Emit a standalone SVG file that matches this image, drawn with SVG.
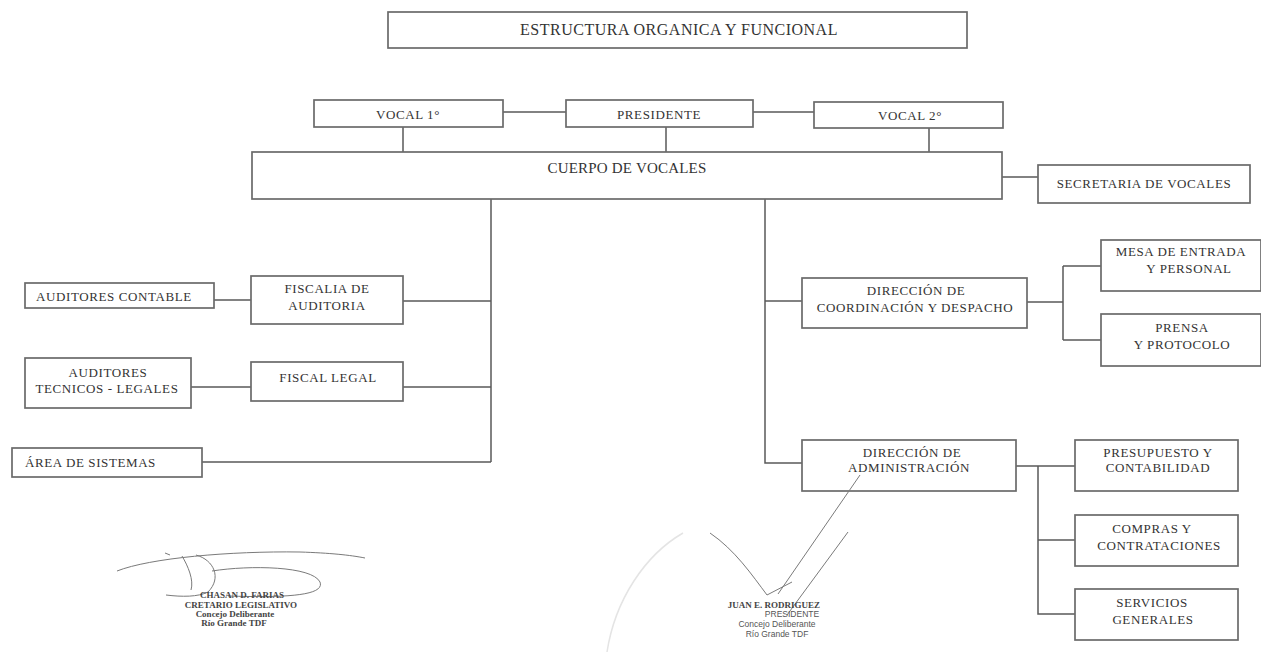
<svg xmlns="http://www.w3.org/2000/svg" width="1261" height="652" viewBox="0 0 1261 652">
<style>
.b{fill:#fff;stroke:#6a6a6a;stroke-width:1.7}
.t{font-family:"Liberation Serif",serif;font-size:13px;letter-spacing:0.6px;fill:#333;text-anchor:middle}
.l{text-anchor:start}
.c{fill:none;stroke:#5a5a5a;stroke-width:1.5}
.s{fill:none;stroke:#7a7a7a;stroke-width:1}
.st{font-family:"Liberation Serif",serif;font-size:9px;fill:#444;text-anchor:middle;font-weight:bold}
.st2{font-family:"Liberation Sans",sans-serif;font-size:8.5px;fill:#555;text-anchor:middle}
</style>
<rect width="1261" height="652" fill="#fff"/>
<g id="connectors">
<path class="c" d="M503 112H566M753 112H814M403 127V152M666 127V152M929 128V152M1002 177H1038"/>
<path class="c" d="M491 199V462M403 301H491M403 387H491M202 462H491M214 300H251M191 387H251"/>
<path class="c" d="M765 199V463H802M765 301H802M1027 302H1063M1063 266V340M1063 266H1101M1063 340H1101"/>
<path class="c" d="M1016 466H1075M1038 466V614H1075M1038 540H1075"/>
</g>
<g id="title"><rect class="b" x="388" y="12" width="579" height="36"/><text class="t" x="679" y="35" style="font-size:16px;letter-spacing:0.5px">ESTRUCTURA ORGANICA Y FUNCIONAL</text></g>
<g id="vocal1"><rect class="b" x="314" y="100" width="189" height="27"/><text class="t" x="408" y="119">VOCAL 1°</text></g>
<g id="presidente"><rect class="b" x="566" y="100" width="187" height="27"/><text class="t" x="659" y="119">PRESIDENTE</text></g>
<g id="vocal2"><rect class="b" x="814" y="102" width="189" height="26"/><text class="t" x="910" y="120">VOCAL 2°</text></g>
<g id="cuerpo"><rect class="b" x="252" y="152" width="750" height="47"/><text class="t" x="627" y="173" style="font-size:15px;letter-spacing:0.2px">CUERPO DE VOCALES</text></g>
<g id="secretaria"><rect class="b" x="1038" y="165" width="212" height="38"/><text class="t" x="1144" y="188">SECRETARIA DE VOCALES</text></g>
<g id="aud-contable"><rect class="b" x="25" y="283" width="189" height="25"/><text class="t" x="114" y="301">AUDITORES CONTABLE</text></g>
<g id="fiscalia"><rect class="b" x="251" y="276" width="152" height="48"/><text class="t" x="327" y="293">FISCALIA DE</text><text class="t" x="327" y="310">AUDITORIA</text></g>
<g id="aud-tecnicos"><rect class="b" x="25" y="358" width="166" height="50"/><text class="t" x="108" y="377">AUDITORES</text><text class="t" x="107" y="393">TECNICOS - LEGALES</text></g>
<g id="fiscal-legal"><rect class="b" x="251" y="362" width="152" height="39"/><text class="t" x="328" y="382">FISCAL LEGAL</text></g>
<g id="sistemas"><rect class="b" x="12" y="448" width="190" height="29"/><text class="t l" x="25" y="467">ÁREA DE SISTEMAS</text></g>
<g id="dir-coord"><rect class="b" x="802" y="278" width="225" height="50"/><text class="t" x="916" y="295">DIRECCIÓN DE</text><text class="t" x="915" y="312">COORDINACIÓN Y DESPACHO</text></g>
<g id="mesa"><rect class="b" x="1101" y="240" width="160" height="51"/><text class="t" x="1181" y="256">MESA DE ENTRADA</text><text class="t" x="1189" y="273">Y PERSONAL</text></g>
<g id="prensa"><rect class="b" x="1101" y="314" width="160" height="52"/><text class="t" x="1182" y="332">PRENSA</text><text class="t" x="1182" y="349">Y PROTOCOLO</text></g>
<g id="dir-admin"><rect class="b" x="802" y="440" width="214" height="51"/><text class="t" x="912" y="457">DIRECCIÓN DE</text><text class="t" x="909" y="472">ADMINISTRACIÓN</text></g>
<g id="presupuesto"><rect class="b" x="1075" y="440" width="163" height="51"/><text class="t" x="1158" y="457">PRESUPUESTO Y</text><text class="t" x="1158" y="472">CONTABILIDAD</text></g>
<g id="compras"><rect class="b" x="1075" y="515" width="163" height="51"/><text class="t" x="1152" y="533">COMPRAS Y</text><text class="t" x="1159" y="550">CONTRATACIONES</text></g>
<g id="servicios"><rect class="b" x="1075" y="589" width="163" height="51"/><text class="t" x="1152" y="607">SERVICIOS</text><text class="t" x="1153" y="624">GENERALES</text></g>
<g id="firma-izq">
<path class="s" d="M117 571C150 558 230 551 300 552C330 553 350 555 365 558"/>
<path class="s" d="M170 555L165 553M182 556C188 566 194 580 191 590M196 555C214 560 222 578 208 592C198 597 182 597 166 595"/>
<path class="s" d="M212 571C250 565 312 566 320 582C325 595 290 598 228 596"/>
<text class="st" x="242" y="598">CHASAN D. FARIAS</text>
<text class="st" x="241" y="608">CRETARIO LEGISLATIVO</text>
<text class="st" x="235" y="617">Concejo Deliberante</text>
<text class="st" x="234" y="626">Río Grande TDF</text>
</g>
<g id="firma-der">
<path d="M607 652C615 600 645 555 683 533" fill="none" stroke="#e4e4e4" stroke-width="1.5"/>
<path class="s" d="M710 533C735 550 752 575 767 595L792 582"/>
<path class="s" d="M778 594L860 475M787 615L848 532"/>
<text class="st" x="774" y="608">JUAN E. RODRIGUEZ</text>
<text class="st2" x="792" y="617">PRESIDENTE</text>
<text class="st2" x="777" y="627">Concejo Deliberante</text>
<text class="st2" x="777" y="637">Río Grande  TDF</text>
</g>
</svg>
